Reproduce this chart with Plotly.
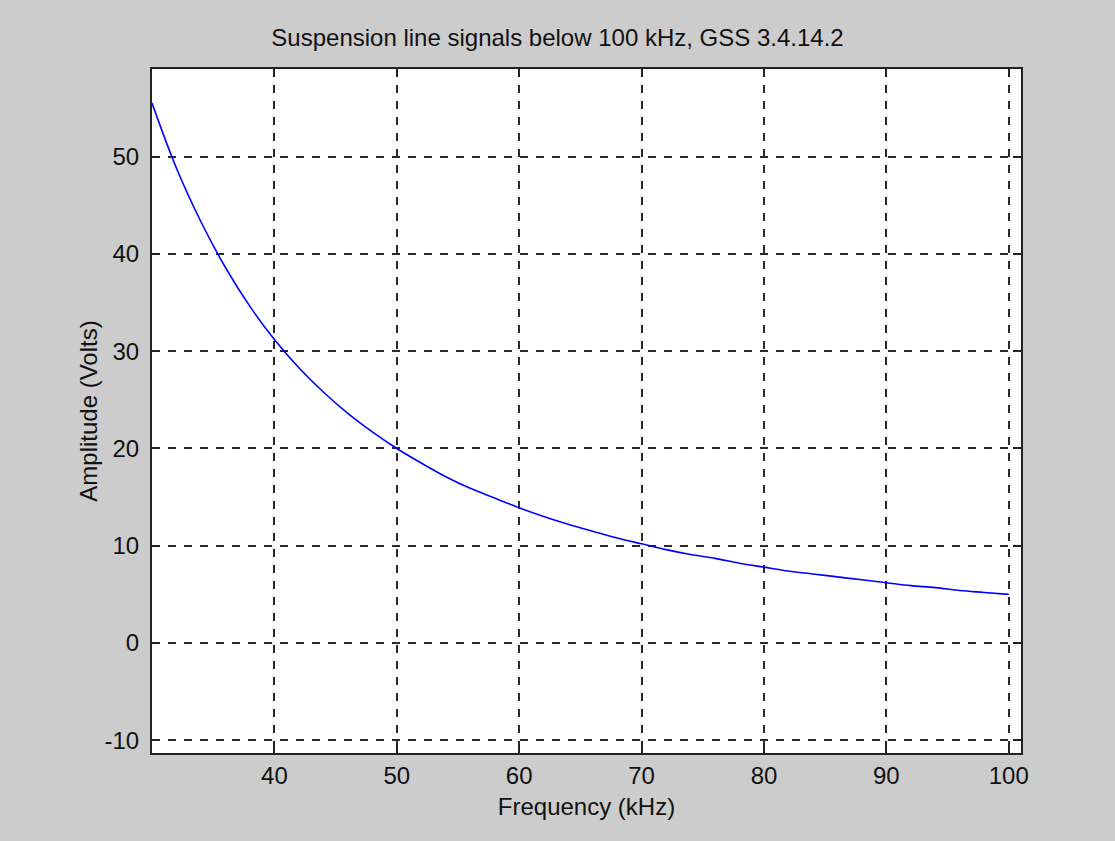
import plotly.graph_objects as go

freq_khz = [30, 32, 34, 36, 38, 40, 42, 44, 46, 48, 50, 52, 54, 56, 58, 60, 62, 64, 66, 68,
            70, 72, 74, 76, 78, 80, 82, 84, 86, 88, 90, 92, 94, 96, 98, 100]
amplitude_v = [55.5, 48.8, 43.3, 38.6, 34.6, 31.2, 28.3, 25.8, 23.6, 21.7, 20.0, 18.5, 17.1,
               15.9, 14.9, 13.9, 13.0, 12.2, 11.5, 10.8, 10.2, 9.6, 9.1, 8.7, 8.2, 7.8, 7.4,
               7.1, 6.8, 6.5, 6.2, 5.9, 5.7, 5.4, 5.2, 5.0]
x_ticks = [40, 50, 60, 70, 80, 90, 100]
y_ticks = [-10, 0, 10, 20, 30, 40, 50]
y_tick_labels = ["-10", "0", "10", "20", "30", "40", "50"]

font = "Liberation Sans, Arial, sans-serif"
fsize = 24
txt = "#111111"

fig = go.Figure()
fig.add_trace(go.Scatter(x=freq_khz, y=amplitude_v, mode="lines",
                         line=dict(color="#0000ff", width=1.6, shape="spline"),
                         showlegend=False))

axis_common = dict(
    showline=True, linecolor="#222222", linewidth=2, mirror="ticks",
    ticks="inside", ticklen=8, tickcolor="#222222", tickwidth=2,
    showgrid=True, gridcolor="#2a2a2a", gridwidth=1.6, griddash="8px,8px",
    zeroline=False, tickfont=dict(family=font, size=fsize, color=txt),
    title_font=dict(family=font, size=fsize, color=txt),
)

fig.update_layout(
    width=1115, height=841,
    paper_bgcolor="#cccccc", plot_bgcolor="white",
    margin=dict(l=152, r=94, t=69, b=88),
    title=dict(text="Suspension line signals below 100 kHz, GSS 3.4.14.2",
               x=0.5, xanchor="center", y=1 - 38 / 841, yanchor="middle",
               font=dict(family=font, size=fsize, color=txt)),
    xaxis=dict(range=[30, 101], tickvals=x_ticks, ticklabelstandoff=0,
               title=dict(text="Frequency (kHz)", standoff=10), **axis_common),
    yaxis=dict(range=[-11.3, 59], tickvals=y_ticks, ticktext=y_tick_labels,
               ticklabelstandoff=6,
               title=dict(text="Amplitude (Volts)", standoff=0), **axis_common),
)

fig.write_html("out.html",
               config={"displayModeBar": False},
               post_script="document.body.style.margin='0';"
                           "document.body.style.background='#cccccc';")
